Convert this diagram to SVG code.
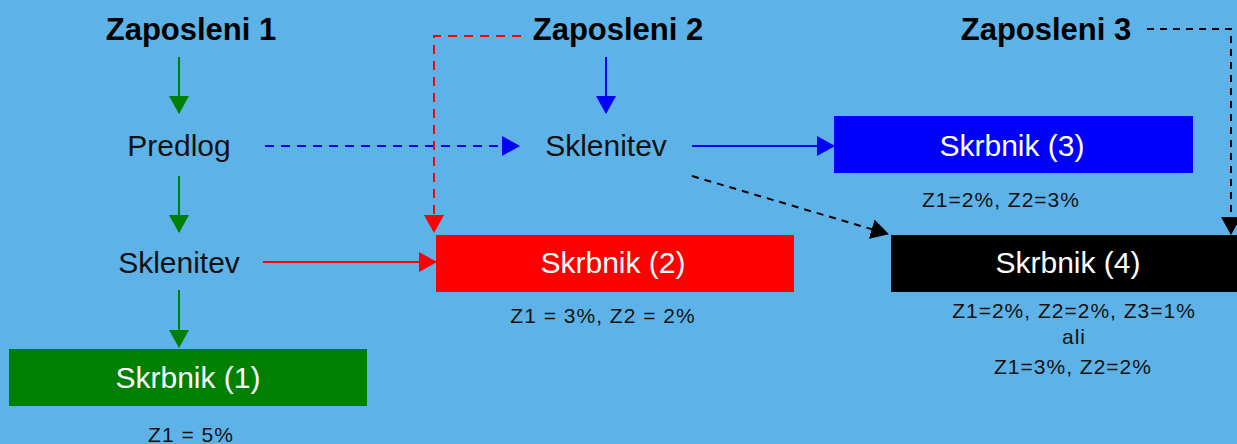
<svg xmlns="http://www.w3.org/2000/svg" width="1237" height="444" viewBox="0 0 1237 444">
<style>
.title{font-family:"Liberation Sans",Arial,sans-serif;font-weight:bold;font-size:31px;fill:#000;text-anchor:middle}
.step{font-family:"Liberation Sans",Arial,sans-serif;font-size:30px;fill:#111;text-anchor:middle}
.box{font-family:"Liberation Sans",Arial,sans-serif;font-size:30px;fill:#fff;text-anchor:middle}
.note{font-family:"Liberation Sans",Arial,sans-serif;font-size:21px;letter-spacing:1px;fill:#111;text-anchor:middle}
.c{fill:none;stroke-width:2}
</style>
<defs>
<marker id="ag" markerUnits="userSpaceOnUse" markerWidth="18" markerHeight="20" refX="17" refY="10" orient="auto" viewBox="0 0 18 20"><path d="M0,0 L18,10 L0,20 z" fill="#008000"/></marker>
<marker id="ab" markerUnits="userSpaceOnUse" markerWidth="18" markerHeight="20" refX="17" refY="10" orient="auto" viewBox="0 0 18 20"><path d="M0,0 L18,10 L0,20 z" fill="#0000FF"/></marker>
<marker id="ar" markerUnits="userSpaceOnUse" markerWidth="18" markerHeight="20" refX="17" refY="10" orient="auto" viewBox="0 0 18 20"><path d="M0,0 L18,10 L0,20 z" fill="#FF0000"/></marker>
<marker id="ak" markerUnits="userSpaceOnUse" markerWidth="18" markerHeight="20" refX="17" refY="10" orient="auto" viewBox="0 0 18 20"><path d="M0,0 L18,10 L0,20 z" fill="#000"/></marker>
</defs>
<rect width="1237" height="444" fill="#5DB3E8"/>
<g id="connectors">
<line class="c" x1="179" y1="57" x2="179" y2="113" stroke="#008000" marker-end="url(#ag)"/>
<line class="c" x1="179" y1="176" x2="179" y2="232" stroke="#008000" marker-end="url(#ag)"/>
<line class="c" x1="179" y1="290" x2="179" y2="347" stroke="#008000" marker-end="url(#ag)"/>
<line class="c" x1="606" y1="57" x2="606" y2="113" stroke="#0000FF" marker-end="url(#ab)"/>
<line class="c" x1="265" y1="146" x2="519" y2="146" stroke="#0000FF" stroke-dasharray="9,7" marker-end="url(#ab)"/>
<line class="c" x1="692" y1="146" x2="834" y2="146" stroke="#0000FF" marker-end="url(#ab)"/>
<path class="c" d="M521,36 H434 V232" stroke="#FF0000" stroke-dasharray="9,7" marker-end="url(#ar)"/>
<line class="c" x1="263" y1="262" x2="436" y2="262" stroke="#FF0000" marker-end="url(#ar)"/>
<line class="c" x1="692" y1="176" x2="888" y2="234" stroke="#000" stroke-dasharray="7,6" marker-end="url(#ak)"/>
<path class="c" d="M1147,29 H1231 V234" stroke="#000" stroke-dasharray="7,6" marker-end="url(#ak)"/>
</g>
<g id="zaposleni1"><text class="title" x="191" y="40">Zaposleni 1</text></g>
<g id="zaposleni2"><text class="title" x="618" y="40">Zaposleni 2</text></g>
<g id="zaposleni3"><text class="title" x="1046" y="40">Zaposleni 3</text></g>
<g id="predlog"><text class="step" x="179" y="156">Predlog</text></g>
<g id="sklenitev1"><text class="step" x="179" y="273">Sklenitev</text></g>
<g id="sklenitev2"><text class="step" x="606" y="156">Sklenitev</text></g>
<g id="skrbnik1">
<rect x="9" y="349" width="358" height="57" fill="#008000"/>
<text class="box" x="188" y="388">Skrbnik (1)</text>
<text class="note" x="191" y="442">Z1 = 5%</text>
</g>
<g id="skrbnik2">
<rect x="436" y="235" width="358" height="57" fill="#FF0000"/>
<text class="box" x="613" y="273">Skrbnik (2)</text>
<text class="note" x="603" y="323">Z1 = 3%, Z2 = 2%</text>
</g>
<g id="skrbnik3">
<rect x="834" y="116" width="359" height="57" fill="#0000FF"/>
<text class="box" x="1012" y="156">Skrbnik (3)</text>
<text class="note" x="1001" y="207">Z1=2%, Z2=3%</text>
</g>
<g id="skrbnik4">
<rect x="891" y="235" width="346" height="57" fill="#000"/>
<text class="box" x="1068" y="273">Skrbnik (4)</text>
<text class="note" x="1074" y="318">Z1=2%, Z2=2%, Z3=1%</text>
<text class="note" x="1074" y="344">ali</text>
<text class="note" x="1073" y="374">Z1=3%, Z2=2%</text>
</g>
</svg>
